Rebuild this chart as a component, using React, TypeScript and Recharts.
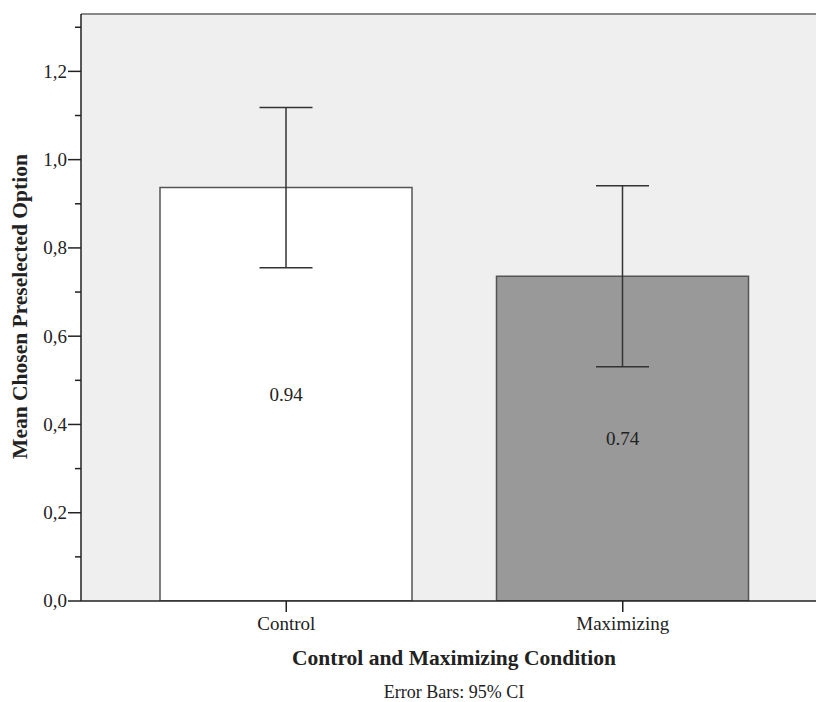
import {
  BarChart,
  Bar,
  XAxis,
  YAxis,
  CartesianGrid,
  ErrorBar,
  LabelList,
  Label,
  Cell,
} from "recharts";

const categories = ["Control", "Maximizing"];
const means = [0.937, 0.736];
const ciLower = [0.755, 0.531];
const ciUpper = [1.118, 0.941];
const yTicks = [0, 0.1, 0.2, 0.3, 0.4, 0.5, 0.6, 0.7, 0.8, 0.9, 1.0, 1.1, 1.2, 1.3];

const barFills = ["#ffffff", "#999999"];
const FONT = '"Liberation Serif", "Times New Roman", serif';
const INK = "#222";

const data = categories.map((name, i) => ({
  name,
  mean: means[i],
  label: means[i].toFixed(2),
  err: [means[i] - ciLower[i], ciUpper[i] - means[i]],
}));

// left axis: long ticks with labels on even tenths, short ones between
function YTick(props: any) {
  const { x, y, payload } = props;
  const v = payload.value as number;
  const major = Math.round(v * 10) % 2 === 0;
  const axisX = x + 14;
  return (
    <g>
      <line
        x1={axisX - (major ? 13 : 6)}
        x2={axisX}
        y1={y}
        y2={y}
        stroke={INK}
        strokeWidth={1.5}
      />
      {major && (
        <text
          x={x}
          y={y}
          dy="0.34em"
          textAnchor="end"
          fontFamily={FONT}
          fontSize={19}
          fill={INK}
        >
          {v.toFixed(1).replace(".", ",")}
        </text>
      )}
    </g>
  );
}

function XTitles(props: any) {
  const { viewBox } = props;
  const cx = 454;
  return (
    <g>
      <text
        x={cx}
        y={viewBox.y + 64}
        textAnchor="middle"
        fontFamily={FONT}
        fontWeight="bold"
        fontSize={21.5}
        fill={INK}
      >
        Control and Maximizing Condition
      </text>
      <text
        x={cx}
        y={viewBox.y + 97}
        textAnchor="middle"
        fontFamily={FONT}
        fontSize={18}
        fill={INK}
      >
        Error Bars: 95% CI
      </text>
    </g>
  );
}

function YTitle() {
  const x = 27;
  const y = 306.5;
  return (
    <text
      x={x}
      y={y}
      transform={`rotate(-90, ${x}, ${y})`}
      textAnchor="middle"
      fontFamily={FONT}
      fontWeight="bold"
      fontSize={21.5}
      fill={INK}
    >
      Mean Chosen Preselected Option
    </text>
  );
}

function BarValue(props: any) {
  const { x, y, width, height, value } = props;
  return (
    <text
      x={x + width / 2}
      y={y + height / 2}
      dy="0.34em"
      textAnchor="middle"
      fontFamily={FONT}
      fontSize={19}
      fill={INK}
    >
      {value}
    </text>
  );
}

export default function App() {
  return (
    <div style={{ position: "absolute", left: 0, top: 0, background: "#fff" }}>
      <BarChart
        width={816}
        height={702}
        data={data}
        margin={{ top: 0, right: 0, bottom: 0, left: 0 }}
      >
        <CartesianGrid fill="#efefef" horizontal={false} vertical={false} />
        <XAxis
          xAxisId="top"
          orientation="top"
          dataKey="name"
          height={14}
          tick={false}
          tickLine={false}
          axisLine={{ stroke: "#888", strokeWidth: 2 }}
        />
        <XAxis
          dataKey="name"
          height={101}
          padding={{ left: 37, right: 25 }}
          tickSize={11}
          tickMargin={5}
          tickLine={{ stroke: INK, strokeWidth: 1.5 }}
          axisLine={{ stroke: INK, strokeWidth: 1.5 }}
          tick={{ fill: INK, fontSize: 19, fontFamily: FONT }}
        >
          <Label content={<XTitles />} />
        </XAxis>
        <YAxis
          width={81}
          domain={[0, 1.33]}
          ticks={yTicks}
          interval={0}
          tickSize={13}
          tickMargin={1}
          tickLine={false}
          tick={<YTick />}
          axisLine={{ stroke: INK, strokeWidth: 1.5 }}
          allowDataOverflow
        >
          <Label content={<YTitle />} />
        </YAxis>
        <Bar
          dataKey="mean"
          barSize={252}
          stroke="#555"
          strokeWidth={1.5}
          isAnimationActive={false}
        >
          {data.map((_, i) => (
            <Cell key={i} fill={barFills[i]} />
          ))}
          <LabelList dataKey="label" content={<BarValue />} />
          <ErrorBar
            dataKey="err"
            direction="y"
            width={26.5}
            stroke="#333"
            strokeWidth={1.5}
            isAnimationActive={false}
          />
        </Bar>
      </BarChart>
    </div>
  );
}
